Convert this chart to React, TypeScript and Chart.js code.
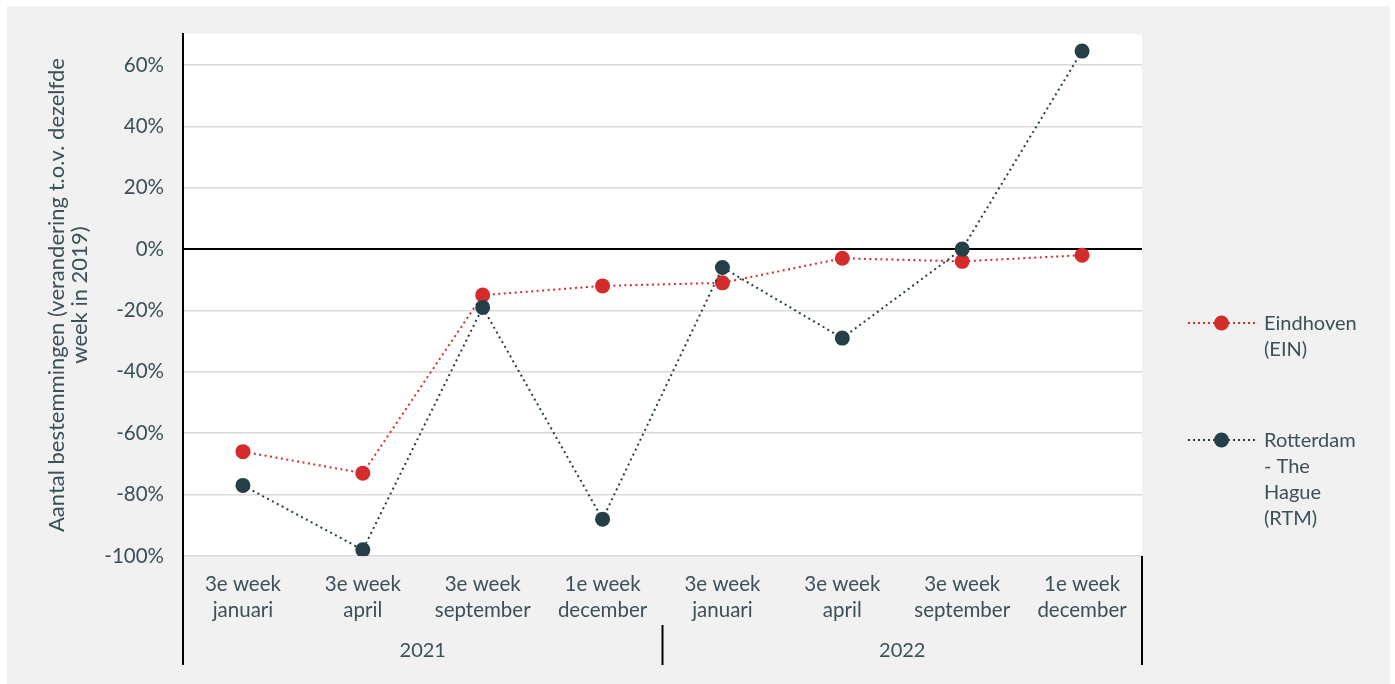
import React, { useEffect, useRef } from "react";
import { Chart, registerables } from "chart.js";

Chart.register(...registerables);

const categories: string[][] = [
  ["3e week", "januari"],
  ["3e week", "april"],
  ["3e week", "september"],
  ["1e week", "december"],
  ["3e week", "januari"],
  ["3e week", "april"],
  ["3e week", "september"],
  ["1e week", "december"],
];
const years = ["2021", "2022"];
const eindhoven = [-66, -73, -15, -12, -11, -3, -4, -2];
const rotterdam = [-77, -98, -19, -88, -6, -29, 0, 64.5];
const seriesNames = [["Eindhoven", "(EIN)"], ["Rotterdam", "- The", "Hague", "(RTM)"]];
const yTitle = ["Aantal bestemmingen (verandering t.o.v. dezelfde", "week in 2019)"];
const yMin = -100;
const yMax = 70;
const yStep = 20;

const RED = "#d42b2b";
const DARK = "#243f47";
const TEXT = "#3b5058";
const FONT = "Lato, 'Open Sans', sans-serif";

const decorPlugin = {
  id: "decor",
  beforeDraw(chart: any) {
    const { ctx, chartArea: a } = chart;
    ctx.save();
    ctx.fillStyle = "#ffffff";
    ctx.fillRect(a.left, a.top, a.right - a.left, a.bottom - a.top);
    ctx.restore();
  },
  afterDraw(chart: any) {
    const { ctx, chartArea: a } = chart;
    const xs = chart.scales.x;
    ctx.save();
    ctx.strokeStyle = "#000";
    ctx.lineWidth = 2;
    const bottom = a.bottom + 109;
    ctx.beginPath();
    ctx.moveTo(a.left, a.bottom);
    ctx.lineTo(a.left, bottom);
    ctx.moveTo(a.right, a.bottom);
    ctx.lineTo(a.right, bottom);
    ctx.stroke();
    const group = categories.length / years.length;
    ctx.font = `20px ${FONT}`;
    ctx.fillStyle = TEXT;
    ctx.textAlign = "center";
    ctx.textBaseline = "middle";
    years.forEach((y, i) => {
      const first = xs.getPixelForValue(i * group);
      const last = xs.getPixelForValue(i * group + group - 1);
      ctx.fillText(y, (first + last) / 2, a.bottom + 95);
      if (i > 0) {
        const prev = xs.getPixelForValue(i * group - 1);
        const sx = (prev + first) / 2;
        ctx.beginPath();
        ctx.moveTo(sx, a.bottom + 69);
        ctx.lineTo(sx, bottom);
        ctx.stroke();
      }
    });
    const colors = [RED, DARK];
    const legendY = [a.bottom - 233, a.bottom - 116];
    const x0 = a.right + 46;
    const x1 = a.right + 113;
    colors.forEach((c, i) => {
      const y = legendY[i];
      ctx.strokeStyle = c;
      ctx.lineWidth = 2;
      ctx.setLineDash([2, 3]);
      ctx.beginPath();
      ctx.moveTo(x0, y);
      ctx.lineTo(x1, y);
      ctx.stroke();
      ctx.setLineDash([]);
      ctx.fillStyle = c;
      ctx.beginPath();
      ctx.arc((x0 + x1) / 2, y, 7.5, 0, Math.PI * 2);
      ctx.fill();
      ctx.fillStyle = TEXT;
      ctx.textAlign = "left";
      seriesNames[i].forEach((t, j) => {
        ctx.fillText(t, a.right + 122, y + 1 + j * 26);
      });
    });
    ctx.restore();
  },
};

export default function App() {
  const ref = useRef<HTMLCanvasElement | null>(null);
  useEffect(() => {
    if (!ref.current) return;
    const chart = new Chart(ref.current, {
      type: "line",
      data: {
        labels: categories as any,
        datasets: [
          {
            label: "Eindhoven (EIN)",
            data: eindhoven,
            borderColor: RED,
            backgroundColor: RED,
            borderWidth: 2,
            borderDash: [2, 3.5],
            pointRadius: 7.5,
            pointBorderWidth: 0,
            pointBackgroundColor: RED,
            tension: 0,
            order: 1,
          },
          {
            label: "Rotterdam - The Hague (RTM)",
            data: rotterdam,
            borderColor: DARK,
            backgroundColor: DARK,
            borderWidth: 2,
            borderDash: [2, 3.5],
            pointRadius: 7.5,
            pointBorderWidth: 0,
            pointBackgroundColor: DARK,
            tension: 0,
            order: 0,
          },
        ],
      },
      options: {
        animation: false,
        responsive: true,
        maintainAspectRatio: false,
        layout: { padding: { left: 0, right: 248, top: 0, bottom: 0 } },
        plugins: {
          legend: { display: false },
          tooltip: { enabled: false },
        },
        scales: {
          x: {
            offset: true,
            grid: { display: false, drawTicks: false, offset: true },
            border: { display: false },
            ticks: {
              color: TEXT,
              font: { family: FONT, size: 20.5, lineHeight: 1.25 },
              padding: 16,
              maxRotation: 0,
              autoSkip: false,
            },
            afterFit(scale: any) {
              scale.height = 128;
            },
          },
          y: {
            min: yMin,
            max: yMax,
            border: { display: true, color: "#000", width: 2 },
            grid: {
              drawTicks: false,
              color: (c: any) => (c.tick && c.tick.value === 0 ? "#000" : "#d9d9d9"),
              lineWidth: (c: any) => (c.tick && c.tick.value === 0 ? 2 : 1.5),
            },
            ticks: {
              stepSize: yStep,
              includeBounds: false,
              color: TEXT,
              padding: 19,
              font: { family: FONT, size: 20.5, lineHeight: 0.9 },
              callback: (v: any) => `${v}%`,
            },
            title: {
              display: true,
              text: yTitle,
              color: TEXT,
              font: { family: FONT, size: 22, lineHeight: 1.05 },
              padding: { top: 38.5, bottom: 0 },
            },
            afterFit(scale: any) {
              scale.width = 176;
            },
          },
        },
      },
      plugins: [decorPlugin],
    });
    return () => chart.destroy();
  }, []);
  return (
    <div
      style={{
        position: "absolute",
        left: 7,
        top: 6,
        width: 1383,
        height: 678,
        background: "#f1f1f1",
      }}
    >
      <canvas ref={ref} />
    </div>
  );
}
